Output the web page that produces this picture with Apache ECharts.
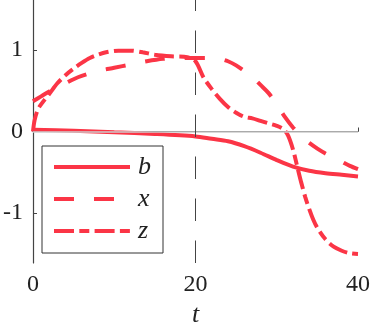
<!DOCTYPE html>
<html>
<head>
<meta charset="utf-8">
<script src="https://cdn.jsdelivr.net/npm/echarts@6/dist/echarts.min.js"></script>
<style>html,body{margin:0;padding:0;background:#fff}#c{width:373px;height:333px}</style>
</head>
<body>
<div id="c"></div>
<script>
// ---- data ----
const xTicks = [0, 20, 40];
const yTicks = [-1, 0, 1];
const seriesNames = ['b', 'x', 'z'];

const tB = [0, 5, 10, 15, 20, 22, 24, 26, 28, 30, 32, 34, 36, 38, 40];
const bVals = [0.02, 0.01, -0.01, -0.03, -0.06, -0.09, -0.12, -0.18, -0.26, -0.35, -0.43, -0.48, -0.51, -0.53, -0.55];

const tX = [0, 1, 2, 3, 4, 5, 6, 8, 10, 12, 14, 16, 18, 20, 22, 23, 24, 25, 26, 27, 28, 29, 30, 31, 32, 33, 34, 35, 36, 37, 38, 39, 40];
const xVals = [0.37, 0.43, 0.49, 0.54, 0.59, 0.64, 0.68, 0.74, 0.78, 0.82, 0.86, 0.89, 0.9, 0.9, 0.9, 0.89, 0.86, 0.81, 0.74, 0.67, 0.57, 0.47, 0.33, 0.18, 0.05, -0.06, -0.14, -0.21, -0.27, -0.32, -0.37, -0.42, -0.46];

const tZ = [0, 0.2, 0.6, 1.2, 2, 3, 4, 5, 6, 7, 8, 9, 10.5, 12, 13.5, 15, 17, 19, 20, 21, 22, 23, 24, 25, 26, 27, 28, 29, 30, 30.8, 31.4, 32, 32.5, 33, 33.5, 34, 34.5, 35, 36, 37, 38, 39, 40];
const zVals = [0.0, 0.14, 0.27, 0.36, 0.46, 0.59, 0.69, 0.77, 0.84, 0.9, 0.94, 0.97, 0.99, 0.99, 0.97, 0.94, 0.92, 0.91, 0.86, 0.66, 0.52, 0.4, 0.3, 0.23, 0.18, 0.16, 0.13, 0.1, 0.07, 0.03, -0.05, -0.22, -0.42, -0.62, -0.8, -0.95, -1.08, -1.18, -1.32, -1.41, -1.46, -1.49, -1.5];

const refX = 20;
const refY = 0;

// ---- styling ----
const RED = '#fb3546';
const FONT = 'Liberation Serif';
const dashX = [20, 20];
const dashZ = [20, 5.3, 10, 5.3];

function zip(t, v) { return t.map((tt, i) => [tt, v[i]]); }

const hidden = {opacity: 0, borderWidth: 0};

const chart = echarts.init(document.getElementById('c'), null, {renderer: 'canvas'});
chart.setOption({
  animation: false,
  grid: {left: 31, right: 12, top: 0, bottom: 70, containLabel: false},
  xAxis: {
    type: 'value', min: 0, max: 40, interval: 20,
    name: 't', nameLocation: 'middle', nameGap: 38,
    nameTextStyle: {fontFamily: FONT, fontStyle: 'italic', fontSize: 26, color: '#222'},
    axisLine: {show: true, lineStyle: {color: '#444', width: 1.2}},
    axisTick: {show: true, inside: true, length: 4, lineStyle: {color: '#444'}},
    axisLabel: {fontFamily: FONT, fontSize: 24, color: '#222', margin: 10},
    splitLine: {show: false}
  },
  yAxis: {
    type: 'value', min: -1.61, max: 1.61,
    axisLine: {show: true, lineStyle: {color: '#444', width: 1.2}},
    axisTick: {show: true, inside: true, length: 4, customValues: yTicks, lineStyle: {color: '#444'}},
    axisLabel: {fontFamily: FONT, fontSize: 24, color: '#222', margin: 10, customValues: yTicks},
    splitLine: {show: false}
  },
  legend: {
    orient: 'vertical', left: 42, top: 146,
    padding: [8, 12, 9, 10],
    itemGap: 6,
    itemWidth: 76, itemHeight: 14,
    borderColor: '#333', borderWidth: 1, backgroundColor: '#fff',
    textStyle: {fontFamily: FONT, fontStyle: 'italic', fontSize: 26, color: '#222', padding: [0, 0, 0, 3], lineHeight: 24},
    data: [
      {name: seriesNames[0], itemStyle: hidden, lineStyle: {color: RED, width: 4, type: 'solid'}},
      {name: seriesNames[1], itemStyle: hidden, lineStyle: {color: RED, width: 4, type: dashX}},
      {name: seriesNames[2], itemStyle: hidden, lineStyle: {color: RED, width: 4, type: dashZ}}
    ]
  },
  series: [
    {
      type: 'line', name: '_ref', data: [], silent: true,
      markLine: {
        silent: true, symbol: 'none', label: {show: false},
        data: [
          {yAxis: refY, lineStyle: {color: '#cccccc', width: 1.5, type: 'solid'}},
          {xAxis: refX, lineStyle: {color: '#444', width: 1, type: [22.5, 19.5]}}
        ]
      },
      z: 1
    },
    {
      type: 'line', name: seriesNames[0], data: zip(tB, bVals), smooth: 0.3,
      showSymbol: false, symbol: 'none',
      lineStyle: {color: RED, width: 4, type: 'solid'}, itemStyle: {color: RED}, z: 3
    },
    {
      type: 'line', name: seriesNames[1], data: zip(tX, xVals), smooth: 0.3,
      showSymbol: false, symbol: 'none',
      lineStyle: {color: RED, width: 4, type: dashX}, itemStyle: {color: RED}, z: 3
    },
    {
      type: 'line', name: seriesNames[2], data: zip(tZ, zVals), smooth: 0.3,
      showSymbol: false, symbol: 'none',
      lineStyle: {color: RED, width: 4, type: dashZ}, itemStyle: {color: RED}, z: 3
    }
  ]
});
</script>
</body>
</html>
